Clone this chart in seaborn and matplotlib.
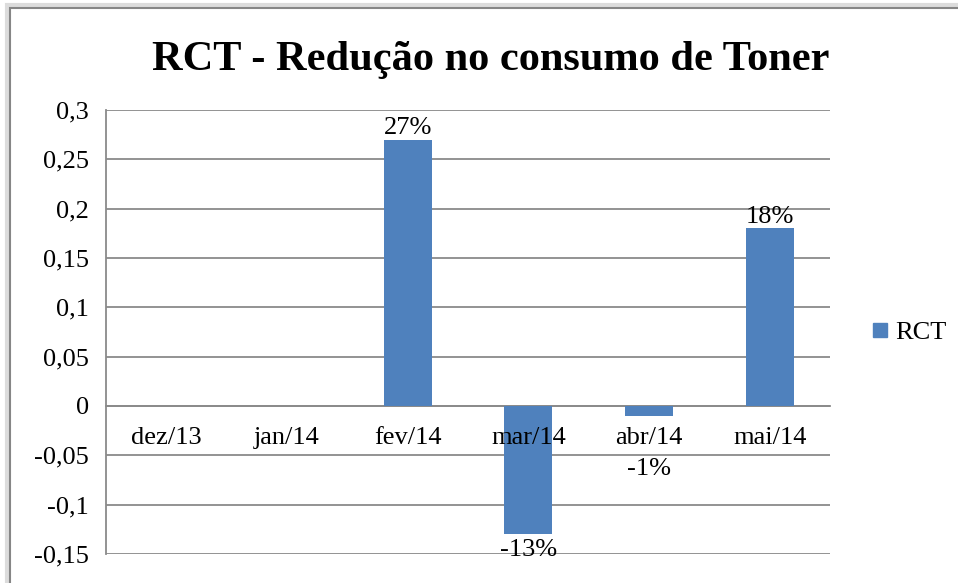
import numpy as np
import pandas as pd
import matplotlib.pyplot as plt
import matplotlib.ticker as mticker
from matplotlib.patches import Rectangle
import seaborn as sns

# Data
months = ['dez/13', 'jan/14', 'fev/14', 'mar/14', 'abr/14', 'mai/14']
rct = [0.0, 0.0, 0.27, -0.13, -0.01, 0.18]
y_ticks = [-0.15, -0.1, -0.05, 0, 0.05, 0.1, 0.15, 0.2, 0.25, 0.3]

df = pd.DataFrame({'Mes': months, 'RCT': rct})

sns.set_style('white')
plt.rcParams['font.family'] = ['Liberation Serif', 'DejaVu Serif']
plt.rcParams['text.color'] = 'black'
plt.rcParams['ytick.labelcolor'] = 'black'

W, H = 958, 583
fig = plt.figure(figsize=(W / 100, H / 100), dpi=100)
ax = fig.add_axes([106 / W, 1 - 554 / H, (830 - 106) / W, (554 - 110) / H])

bar_color = '#4F81BD'
grid_color = '#8a8a8a'
fs = 19

sns.barplot(data=df, x='Mes', y='RCT', order=months, color=bar_color,
            width=0.4, saturation=1, linewidth=0, ax=ax, zorder=3)

ax.set_ylim(-0.15, 0.3)
ax.set_xlim(-0.5, len(months) - 0.5)
ax.set_yticks(y_ticks)
ax.yaxis.set_major_formatter(mticker.FuncFormatter(
    lambda v, p: ('%g' % round(v, 2)).replace('.', ',')))
ax.grid(axis='y', color=grid_color, linewidth=1.3, zorder=0)
ax.set_axisbelow(True)

# spines: left gray, bottom moved to zero
for s in ['top', 'right']:
    ax.spines[s].set_visible(False)
ax.spines['left'].set_color(grid_color)
ax.spines['left'].set_linewidth(1.3)
ax.spines['bottom'].set_position(('data', 0))
ax.spines['bottom'].set_color(grid_color)
ax.spines['bottom'].set_linewidth(1.3)

ax.tick_params(axis='y', which='major', length=4.5, color=grid_color,
               width=1.3, labelsize=fs, labelcolor='black', pad=8)
ax.set_xticks(range(len(months)))
ax.set_xticklabels([])
ax.tick_params(axis='x', which='major', length=0)
ax.set_xticks(np.arange(-0.5, len(months)), minor=True)
ax.tick_params(axis='x', which='minor', length=4.5, color=grid_color,
               width=1.3, direction='out')
ax.set_xlabel('')
ax.set_ylabel('')

# Category labels drawn above the bars (as in the original)
for i, m in enumerate(months):
    ax.annotate(m, (i, 0), xytext=(0, -23), textcoords='offset points',
                ha='center', va='center', fontsize=fs, color='black',
                zorder=6, annotation_clip=False)

# Data labels
offsets = {2: 8, 3: -11, 4: -38, 5: 8}
for i, v in enumerate(rct):
    if v == 0:
        continue
    ax.annotate(f'{v:.0%}', (i, v), xytext=(0, offsets[i]),
                textcoords='offset points', ha='center', va='center',
                fontsize=fs, color='black', zorder=6, annotation_clip=False)

fig.text(0.512, 1 - 70 / H, 'RCT - Redução no consumo de Toner',
         ha='center', va='baseline', fontsize=30.5, fontweight='bold',
         color='black')

# Legend
handle = plt.Line2D([], [], marker='s', color=bar_color, linestyle='',
                    markersize=10)
fig.legend([handle], ['RCT'], loc='center left',
           bbox_to_anchor=(856 / W, 1 - 332 / H),
           frameon=False, fontsize=fs, handletextpad=0.2, handlelength=0.8,
           borderpad=0, labelcolor='black')

# Chart border with a slight shadow
fig.patches.append(Rectangle((7 / W, -0.05), 1.1, 1 - 5 / H + 0.05,
                             transform=fig.transFigure, fill=False,
                             edgecolor='#dcdcdc', linewidth=3, zorder=-2))
fig.patches.append(Rectangle((10 / W, -0.05), 1.1, 1 - 8 / H + 0.05,
                             transform=fig.transFigure, fill=False,
                             edgecolor='#868686', linewidth=1.5))

fig.savefig('out.png', dpi=100)
